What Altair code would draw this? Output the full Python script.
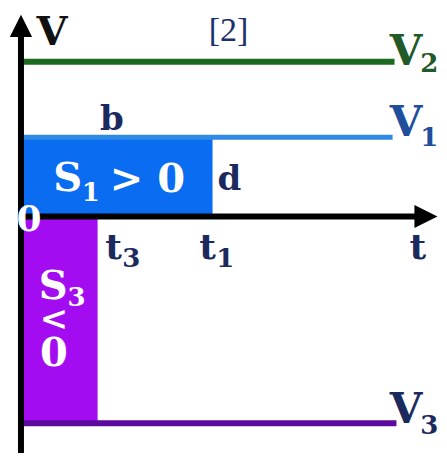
import altair as alt
import pandas as pd

# Levels of the three horizontal lines (V2, V1, V3)
LEVEL_NAMES = ["V2", "V1", "V3"]
LEVEL_VALUES = [3.9, 2.0, -5.2]
LEVEL_ENDS = [9.75, 9.7, 9.8]
LEVEL_COLORS = ["#1b6b1f", "#2f8ae6", "#5c0a9e"]
LEVEL_WIDTHS = [6, 5, 6]

# Shaded areas S1 (0..t1 under V1) and S3 (0..t3 above V3)
T1 = 5.0
T3 = 2.0
AREA_NAMES = ["S1", "S3"]
AREA_T_END = [T1, T3]
AREA_LEVEL = [2.0, -5.2]
AREA_COLORS = ["#0a6cf0", "#a30cf0"]

NAVY = "#1b2a5e"
FONT = "DejaVu Serif"

X_DOMAIN = [-0.3385, 10.885]
Y_DOMAIN = [-5.95, 5.25]
xs = alt.Scale(domain=X_DOMAIN, nice=False, zero=False)
ys = alt.Scale(domain=Y_DOMAIN, nice=False, zero=False)

areas = pd.DataFrame({"name": AREA_NAMES, "t0": 0.0, "t1": AREA_T_END,
                      "v0": 0.0, "v1": AREA_LEVEL, "color": AREA_COLORS})
levels = pd.DataFrame({"name": LEVEL_NAMES, "v": LEVEL_VALUES, "t0": 0.0,
                       "t1": LEVEL_ENDS, "color": LEVEL_COLORS, "w": LEVEL_WIDTHS})

rects = alt.Chart(areas).mark_rect().encode(
    x=alt.X("t0:Q", scale=xs, axis=None), x2="t1:Q",
    y=alt.Y("v0:Q", scale=ys, axis=None), y2="v1:Q",
    color=alt.Color("color:N", scale=None))

lines = alt.Chart(levels).mark_rule().encode(
    x=alt.X("t0:Q", scale=xs, axis=None), x2="t1:Q",
    y=alt.Y("v:Q", scale=ys, axis=None),
    color=alt.Color("color:N", scale=None),
    size=alt.Size("w:Q", scale=None))

axes_df = pd.DataFrame({"t0": [0.0, -0.08], "t1": [0.0, 10.4],
                        "v0": [-5.95, 0.0], "v1": [4.6, 0.0]})
axes = alt.Chart(axes_df).mark_rule(color="black", strokeWidth=6).encode(
    x=alt.X("t0:Q", scale=xs, axis=None), x2="t1:Q",
    y=alt.Y("v0:Q", scale=ys, axis=None), y2="v1:Q")

up = alt.Chart(pd.DataFrame({"t": [0.0], "v": [4.8]})).mark_point(
    shape="M0,-1L1,1L-1,1Z", filled=True, color="black", opacity=1, size=500
).encode(x=alt.X("t:Q", scale=xs, axis=None), y=alt.Y("v:Q", scale=ys, axis=None))
right = alt.Chart(pd.DataFrame({"t": [10.57], "v": [0.0]})).mark_point(
    shape="M1,0L-1,-1L-1,1Z", filled=True, color="black", opacity=1, size=529
).encode(x=alt.X("t:Q", scale=xs, axis=None), y=alt.Y("v:Q", scale=ys, axis=None))

GREEN_T = "#1f5a28"
BLUE_T = "#1f4f9c"
labels = pd.DataFrame([
    ("V", 0.81, 4.62, 40, "#111111"),
    ("V", 10.05, 4.15, 42, GREEN_T), ("2", 10.66, 3.85, 26, GREEN_T),
    ("V", 10.05, 2.35, 42, BLUE_T), ("1", 10.66, 1.97, 26, BLUE_T),
    ("b", 2.37, 2.43, 34, NAVY),
    ("S", 1.22, 0.95, 40, "white"), ("1", 1.82, 0.6, 26, "white"),
    ("> 0", 3.3, 0.93, 40, "white"),
    ("d", 5.44, 0.93, 34, NAVY),
    ("0", 0.21, -0.08, 36, "white"),
    ("t", 2.42, -0.8, 36, NAVY), ("3", 2.88, -1.07, 26, NAVY),
    ("t", 4.87, -0.8, 36, NAVY), ("1", 5.33, -1.07, 26, NAVY),
    ("t", 10.36, -0.8, 36, NAVY),
    ("S", 0.84, -1.78, 40, "white"), ("3", 1.45, -2.05, 26, "white"),
    ("<", 0.86, -2.6, 34, "white"),
    ("0", 0.86, -3.45, 40, "white"),
    ("V", 10.05, -4.88, 42, NAVY), ("3", 10.66, -5.28, 26, NAVY),
], columns=["text", "t", "v", "fs", "color"])

bold_text = alt.Chart(labels).mark_text(
    font=FONT, fontWeight="bold", align="center", baseline="middle").encode(
    x=alt.X("t:Q", scale=xs, axis=None), y=alt.Y("v:Q", scale=ys, axis=None),
    text="text:N", color=alt.Color("color:N", scale=None),
    size=alt.Size("fs:Q", scale=None))

ref_text = alt.Chart(pd.DataFrame({"text": ["[2]"], "t": [5.42], "v": [4.68]})).mark_text(
    font="Liberation Serif", fontSize=34, color="#1a2f6e", align="center",
    baseline="middle").encode(
    x=alt.X("t:Q", scale=xs, axis=None), y=alt.Y("v:Q", scale=ys, axis=None),
    text="text:N")

chart = alt.layer(rects, lines, axes, up, right, bold_text, ref_text).properties(
    width=431, height=448,
    autosize=alt.AutoSizeParams(type="fit", contains="padding"),
    padding=0, background="white"
).configure_view(stroke=None)

chart.save("out.html", embed_options={"renderer": "svg", "actions": False})
